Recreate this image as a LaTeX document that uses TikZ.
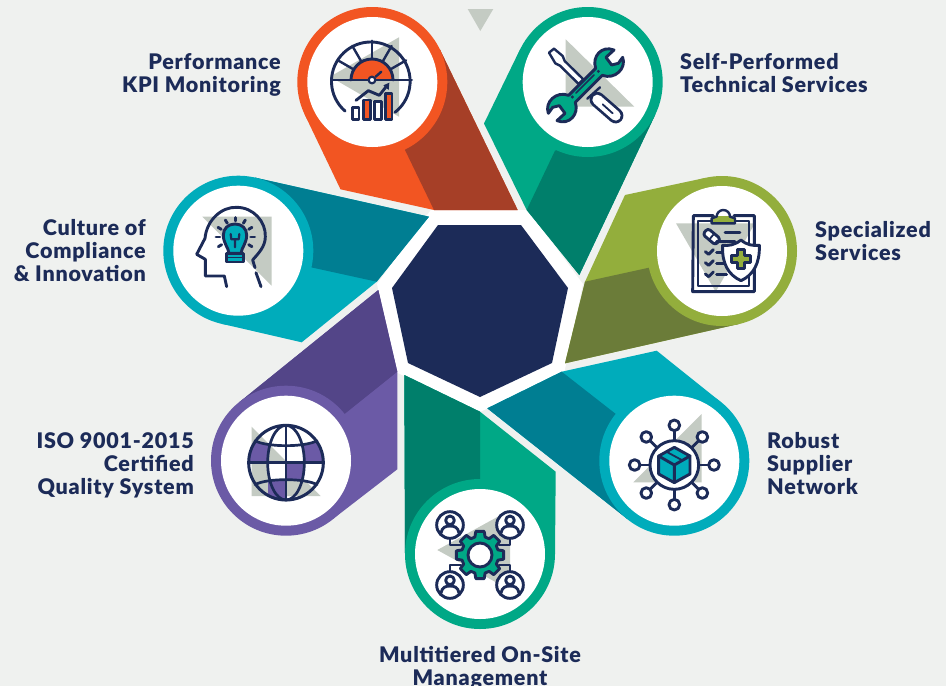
\documentclass[tikz,border=0pt]{standalone}
\usepackage{fontspec}
\setmainfont{Lato}[BoldFont={Lato Black},LetterSpace=3.5]
\definecolor{bgc}{HTML}{EFF1EF}
\definecolor{navy}{HTML}{1C2B58}
\definecolor{greyt}{HTML}{C4CBC3}
\definecolor{orangeL}{HTML}{F25522}
\definecolor{orangeD}{HTML}{A63F27}
\definecolor{greenL}{HTML}{00A886}
\definecolor{greenD}{HTML}{007F6B}
\definecolor{oliveL}{HTML}{93AE3C}
\definecolor{oliveD}{HTML}{6B7C39}
\definecolor{cyanL}{HTML}{00ACBB}
\definecolor{cyanD}{HTML}{007E92}
\definecolor{purpL}{HTML}{6B5AA6}
\definecolor{purpD}{HTML}{534588}
\tikzset{
  ringnode/.style={circle,minimum size=150pt,inner sep=0pt},
  discnode/.style={circle,minimum size=130pt,inner sep=0pt,fill=white},
  ic/.style={draw=navy,line width=2.9pt,line join=round,line cap=round},
  zm/.style 2 args={shift={(#1,#2)},x=0.33333pt,y=-0.33333pt},
  lbl/.style={text=navy,font=\fontsize{21.5}{23}\selectfont\bfseries,inner sep=0pt},
}
\newcommand\petal[6]{%
  \fill[#5] #3 -- cycle;
  \fill[#6] #4 -- cycle;
  \node[ringnode,fill=#5] (#1ring) at (#2) {};
  \node[discnode] (#1disc) at (#2) {};
}
\newcommand\person[2]{%
  \draw[ic,fill=white] (#1,#2) circle[radius=40];
  \draw[ic] (#1,#2-14) circle[radius=13];
  \draw[ic] (#1-27,#2+24) .. controls (#1-24,#2+6) and (#1-12,#2+3) .. (#1,#2+3) .. controls (#1+12,#2+3) and (#1+24,#2+6) .. (#1+27,#2+24);
}
\begin{document}
\begin{tikzpicture}[x=1pt,y=-1pt]
\useasboundingbox (0,0) rectangle (946,686);
\fill[bgc] (0,0) rectangle (946,686);
\fill[greyt] (467.7,9) -- (493.3,9) -- (480.3,31) -- cycle;
% white surround of the hub
\fill[white] (430.8,210) -- (528,210) -- (583,284) -- (564.4,372) -- (480,412) -- (395.6,372) -- (377,284) -- cycle;
% petals
\petal{perf}{372.3,82}{(439.9,49.5) -- (517.7,210) -- (434,210) -- (340.5,189.3) -- (304.7,114.5)}{(404.8,149.6) -- (434,210) -- (517.7,210) -- (439.9,49.5)}{orangeL}{orangeD}
\petal{tech}{587.7,82}{(520,49.5) -- (484,123.5) -- (526.7,210) -- (579.3,275) -- (655.3,114.5)}{(555,150.7) -- (526.7,210) -- (579.3,275) -- (655.3,114.5)}{greenL}{greenD}
\petal{spec}{722,251}{(705.3,177.9) -- (625,195) -- (585,281.7) -- (565,363.3) -- (738.7,324)}{(648.9,267.7) -- (585,281.7) -- (565,363.3) -- (738.7,324)}{oliveL}{oliveD}
\petal{supp}{674.3,460.7}{(721,402.2) -- (656.7,350.7) -- (561.7,371.7) -- (487.3,408.3) -- (627.6,519.2)}{(615.8,414) -- (561.7,371.7) -- (487.3,408.3) -- (627.6,519.2)}{cyanL}{cyanD}
\petal{mgmt}{480,554}{(555,554) -- (555.7,471.7) -- (480,411.7) -- (404.3,375) -- (405,554)}{(480,479) -- (480,411.7) -- (404.3,375) -- (405,554)}{greenL}{greenD}
\petal{iso}{286,460.7}{(332.7,519.2) -- (397.3,469.3) -- (397.3,371.7) -- (378.3,290) -- (239.3,402.2)}{(344.5,414) -- (397.3,371.7) -- (378.3,290) -- (239.3,402.2)}{purpL}{purpD}
\petal{cult}{238.3,250.7}{(255,177.6) -- (429,216.7) -- (376.7,281.7) -- (301.7,342.3) -- (221.6,323.8)}{(311.4,267.4) -- (376.7,281.7) -- (429,216.7) -- (255,177.6)}{cyanL}{cyanD}
% hub
\fill[navy] (438,225) -- (521,225) -- (568,288) -- (552,363) -- (480,397) -- (408,363) -- (392,288) -- cycle;
% grey triangles
\fill[greyt] (399,37.3) -- (330,76.7) -- (399,116.7) -- cycle;
\fill[greyt] (565.7,39.3) -- (565.7,106.7) -- (634.3,106.7) -- cycle;
\fill[greyt] (676,223.3) -- (755,223.3) -- (715.7,291.7) -- cycle;
\fill[greyt] (701.7,414) -- (701.7,482.3) -- (633.3,482.3) -- cycle;
\fill[greyt] (437.3,550) -- (510,510) -- (510,590) -- cycle;
\fill[greyt] (251.7,426.7) -- (251.7,496) -- (320.7,496) -- cycle;
\fill[greyt] (202.3,216.7) -- (271.7,216.7) -- (271.7,285.7) -- cycle;
% gauge icon
\begin{scope}[zm={290}{0}]
  \fill[orangeL] (183,240) arc[start angle=180,end angle=360,radius=63] -- cycle;
  \draw[ic] (183,240) arc[start angle=180,end angle=360,radius=63];
  \draw[ic] (165,333) arc[start angle=131,end angle=412,radius=118];
  \draw[ic] (128,240) -- (365,240);
  \begin{scope}[shift={(246,240)}]
    \foreach \a in {210,240,270,300,330}{\draw[ic,line width=2.4pt] (\a:63) -- (\a:118);}
  \end{scope}
  \draw[ic,line width=2.4pt] (257,230) -- (274,215);
  \draw[ic,fill=white,line width=2.2pt] (246,240) circle[radius=10];
  \draw[ic] (198,301) -- (235,272) -- (268,286) -- (290,258);
  \fill[navy] (298,248) -- (280,256) -- (296,270) -- cycle;
  \draw[ic,fill=white] (188,323) rectangle (207,358);
  \draw[ic,fill=orangeL] (221,300) rectangle (241,358);
  \draw[ic,fill=white] (253,305) rectangle (275,358);
  \draw[ic,fill=orangeL] (286,280) rectangle (306,358);
\end{scope}
% tools icon
\begin{scope}[zm={480}{0}]
  \draw[ic,fill=white,line width=2.4pt] (207,158) -- (222,146) -- (248,168) -- (254,183) -- (310,238) -- (296,252) -- (240,197) -- (226,190) -- cycle;
  \draw[navy,line width=15.5pt,line cap=round] (352,299) -- (407,347);
  \draw[white,line width=10pt,line cap=round] (352,299) -- (407,347);
  \draw[navy,line width=1.8pt,line cap=round] (368,313) -- (398,340);
  \draw[ic,line width=2.4pt] (322,296) -- (360,262);
  \draw[ic,fill=greenL] (347,205) .. controls (335,170) and (365,135) .. (402,150) -- (378,172) -- (395,195) -- (415,190) -- (428,172) .. controls (440,205) and (405,240) .. (367,226) -- (286,307) .. controls (298,342) and (268,377) .. (231,362) -- (255,340) -- (238,317) -- (218,322) -- (205,340) .. controls (193,307) and (228,272) .. (266,286) -- cycle;
  \draw[navy,line width=1.5pt,line cap=round] (342,225) -- (288,279);
  \fill[navy] (355,214) circle[radius=5] (277,291) circle[radius=5];
\end{scope}
% clipboard icon
\begin{scope}[zm={560}{170}]
  \draw[ic] (460,137) -- (400,137) -- (398,365) -- (583,365) -- (583,137) -- (522,137);
  \draw[ic,line width=2.2pt] (455,152) -- (415,152) -- (415,347) -- (567,347) -- (567,152) -- (525,152);
  \fill[oliveL] (470,138) rectangle (510,158);
  \fill[oliveL] (455,145) rectangle (525,160);
  \draw[ic,line width=2.4pt] (470,140) arc[start angle=180,end angle=360,radius=20];
  \draw[ic,line width=2.4pt] (470,140) -- (455,145) -- (455,160) -- (525,160) -- (525,145) -- (510,140);
  \begin{scope}[shift={(455,200)},rotate=-40]
    \draw[ic,fill=white,rounded corners=3pt] (-25,-12) rectangle (25,12);
    \draw[navy,line width=1.8pt] (0,-12) -- (0,12);
  \end{scope}
  \draw[ic] (495,187) -- (540,187);
  \draw[ic] (470,215) -- (525,215);
  \foreach \y in {245,278,312}{
    \draw[ic] (436,\y) -- (446,\y+8) -- (460,\y-6);
    \draw[ic] (470,\y+2) -- (500,\y+2);
  }
  \draw[ic,fill=white] (543,210) .. controls (525,225) and (505,228) .. (488,226) .. controls (485,280) and (505,315) .. (543,332) .. controls (580,315) and (600,280) .. (598,226) .. controls (580,228) and (560,225) .. (543,210) -- cycle;
  \draw[ic,fill=oliveL] (532,238) -- (554,238) -- (554,256) -- (572,256) -- (572,278) -- (554,278) -- (554,296) -- (532,296) -- (532,278) -- (514,278) -- (514,256) -- (532,256) -- cycle;
\end{scope}
% network icon
\begin{scope}[zm={480}{340}]
  \begin{scope}[shift={(583,375)}]
    \foreach \a in {0,45,...,315}{
      \draw[ic] (\a:73) -- (\a:104);
      \draw[ic,fill=white] (\a:119) circle[radius=16];
    }
    \draw[ic,fill=white] (0,0) circle[radius=73];
    \draw[ic,fill=cyanL] (0,-53) -- (47,-27) -- (47,27) -- (0,53) -- (-47,27) -- (-47,-27) -- cycle;
    \draw[ic] (-47,-27) -- (0,0) -- (47,-27) (0,0) -- (0,53);
    \draw[ic,line width=1.8pt] (-24,-40) -- (24,-14);
  \end{scope}
\end{scope}
% management icon
\begin{scope}[zm={400}{370}]
  \draw[ic] (150,505) -- (150,525) -- (182,525);
  \draw[ic] (330,505) -- (330,525) -- (298,525);
  \draw[ic] (150,605) -- (150,585) -- (182,585);
  \draw[ic] (330,605) -- (330,585) -- (298,585);
  \person{150}{465}
  \person{330}{465}
  \person{150}{645}
  \person{330}{645}
  \begin{scope}[shift={(240,555)}]
    \draw[ic,fill=greenL] (-10:72) \foreach \a in {0,45,...,315}{ -- (\a-10:72) -- (\a+10:72) -- (\a+16:56) -- (\a+29:56)} -- cycle;
    \draw[ic,fill=white] (0,0) circle[radius=36];
  \end{scope}
\end{scope}
% globe icon
\begin{scope}[zm={200}{280}]
  \begin{scope}
    \clip (258,548) circle[radius=112];
    \fill[purpL] (145,488) rectangle (205,548);
    \fill[purpL] (310,488) rectangle (372,548);
    \fill[purpL] (258,548) rectangle (310,602);
    \fill[purpL] (205,600) rectangle (258,662);
    \fill[white] (205,548) rectangle (258,602);
    \fill[white] (258,495) rectangle (310,548);
  \end{scope}
  \draw[ic,line width=3pt] (258,548) circle[radius=112];
  \draw[ic,line width=2.7pt] (258,548) ellipse[x radius=55,y radius=112];
  \draw[ic,line width=2.7pt] (258,436) -- (258,660) (146,548) -- (370,548);
  \draw[ic,line width=2.7pt] (165,482) .. controls (200,502) and (316,502) .. (351,482);
  \draw[ic,line width=2.7pt] (165,614) .. controls (200,594) and (316,594) .. (351,614);
\end{scope}
% head icon
\begin{scope}[zm={160}{170}]
  \draw[ic] (200,350) -- (193,318) -- (136,318) -- (136,268) -- (110,253) -- (135,205) .. controls (140,150) and (185,110) .. (230,112) .. controls (280,112) and (318,155) .. (316,200) .. controls (316,230) and (295,250) .. (278,270) -- (285,293);
  \draw[ic] (288,308) -- (303,350);
  \draw[ic,fill=cyanL] (207,250) .. controls (205,232) and (190,220) .. (190,195) .. controls (190,175) and (205,162) .. (225,162) .. controls (245,162) and (260,175) .. (260,195) .. controls (260,220) and (245,232) .. (243,250) -- cycle;
  \draw[navy,line width=2.2pt,line cap=round,line join=round] (225,232) -- (225,208) (212,192) -- (214,208) -- (236,208) -- (238,192);
  \draw[ic,fill=cyanL] (200,250) -- (250,250) -- (250,276) -- (200,276) -- cycle;
  \draw[navy,line width=1.5pt] (200,263) -- (250,263);
  \draw[ic] (226,143) -- (226,153);
  \draw[ic] (196,150) -- (202,160);
  \draw[ic] (256,150) -- (250,160);
  \draw[ic] (174,172) -- (184,178);
  \draw[ic] (276,172) -- (266,178);
  \draw[ic] (168,201) -- (180,201);
  \draw[ic] (284,201) -- (272,201);
  \draw[ic] (175,230) -- (185,224);
  \draw[ic] (276,230) -- (266,224);
\end{scope}
% labels
\node[lbl,anchor=east,align=right] (lperf) at (281,74.5) {Performance\\KPI Monitoring};
\node[lbl,anchor=west,align=left] (ltech) at (680,73.5) {Self-Performed\\Technical Services};
\node[lbl,anchor=west,align=left] (lspec) at (815,241) {Specialized\\Services};
\node[lbl,anchor=west,align=left] (lsupp) at (767,463.5) {Robust\\Supplier\\Network};
\node[lbl,anchor=east,align=right] (liso) at (194,465) {ISO 9001-2015\\Certified\\Quality System};
\node[lbl,anchor=east,align=right] (lcult) at (146,251) {Culture of\\Compliance\\\& Innovation};
\node[lbl,anchor=center,align=center] (lmgmt) at (480,667.5) {Multitiered On-Site\\Management};
\end{tikzpicture}
\end{document}
